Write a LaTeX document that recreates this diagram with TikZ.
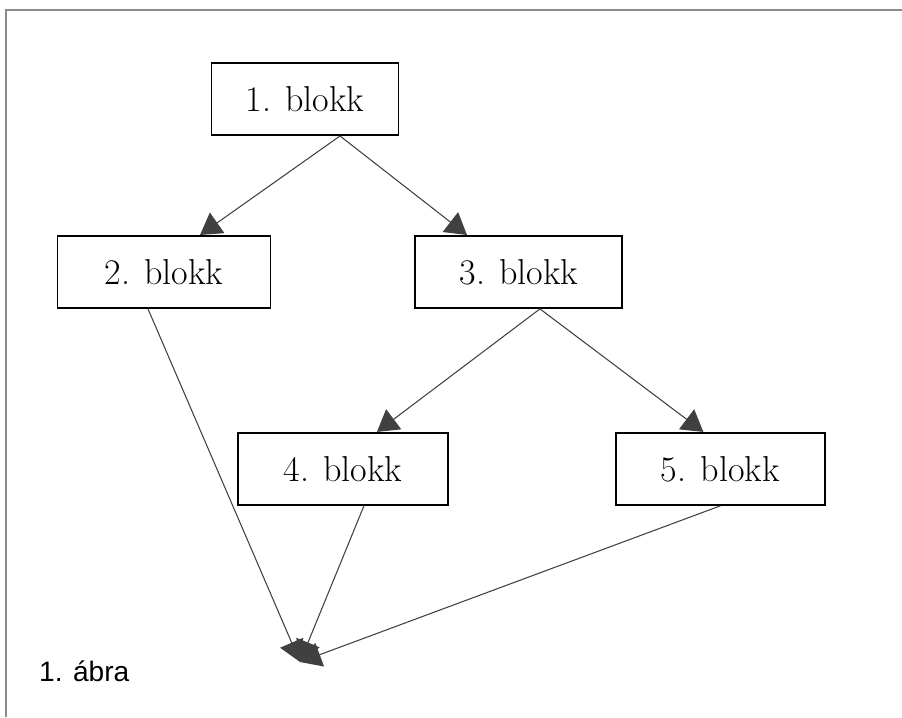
\documentclass[tikz,border=0pt]{standalone}
\usepackage{fontspec}
\newfontfamily\abrafont{Liberation Sans}
\usetikzlibrary{arrows.meta,positioning}

\begin{document}
\begin{tikzpicture}[
    blokk/.style={
      draw,
      line width=1.1pt,
      minimum width=4.2cm,
      minimum height=1.44cm,
      font=\fontsize{20.5}{22}\selectfont
    },
    arrow/.style={-{Triangle[length=0.42cm,width=0.5cm]}, draw=black!75, line width=0.6pt}
  ]
    \useasboundingbox (0,0) rectangle (18.04,-14.34);
    % frame of the figure
    \draw[black!45, line width=0.8pt] (18.04,-0.2) -- (0.12,-0.2) -- (0.12,-14.34);

    \node[blokk, minimum width=3.74cm] (b1) at (6.1,-1.98) {1. blokk};
    \node[blokk, minimum width=4.14cm, below right=1.98cm and 0.3cm of b1] (b3) {3. blokk};
    \node[blokk, minimum width=4.26cm, left=2.86cm of b3] (b2) {2. blokk};
    \node[blokk, below=2.46cm of b3, xshift=-3.52cm] (b4) {4. blokk};
    \node[blokk, minimum width=4.18cm, right=3.32cm of b4] (b5) {5. blokk};
    \coordinate (cel) at (6.0,-13.24);
    \node[font=\abrafont\fontsize{16}{18}\selectfont, anchor=west] (abra) at (0.66,-13.43) {1. ábra};

    \draw[arrow] ([xshift=0.7cm]b1.south) -- ([xshift=0.72cm]b2.north);
    \draw[arrow] ([xshift=0.7cm]b1.south) -- ([xshift=-1.04cm]b3.north);
    \draw[arrow] ([xshift=0.42cm]b3.south) -- ([xshift=0.68cm]b4.north);
    \draw[arrow] ([xshift=0.42cm]b3.south) -- ([xshift=-0.34cm]b5.north);
    \draw[arrow] ([xshift=-0.32cm]b2.south) -- (cel);
    \draw[arrow] ([xshift=0.42cm]b4.south) -- (cel);
    \draw[arrow] (b5.south) -- (cel);
\end{tikzpicture}
\end{document}
